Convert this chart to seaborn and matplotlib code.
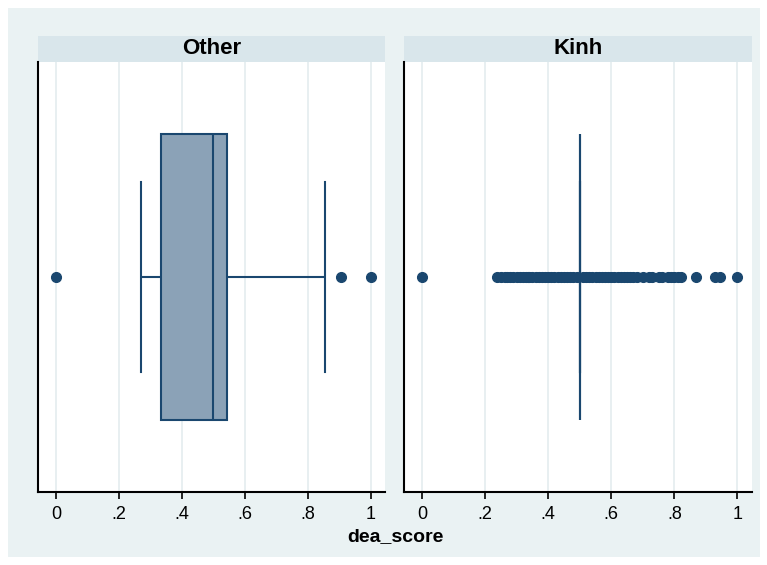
import numpy as np
import pandas as pd
import matplotlib.pyplot as plt
import matplotlib.patches as mpatches
import seaborn as sns

# dea_score values
other_scores = [0.0, 0.27, 0.30, 0.32, 0.335, 0.335, 0.36, 0.40, 0.44, 0.48, 0.5,
                0.5, 0.5, 0.52, 0.53, 0.545, 0.545, 0.70, 0.855, 0.905, 1.0]
kinh_spread = [0.0, 0.238, 0.25, 0.262, 0.27, 0.28, 0.29, 0.30, 0.31, 0.32, 0.33, 0.335,
               0.34, 0.35, 0.36, 0.37, 0.38, 0.39, 0.40, 0.41, 0.42, 0.43, 0.44, 0.45,
               0.46, 0.47, 0.48, 0.49, 0.51, 0.52, 0.53, 0.54, 0.55, 0.56, 0.57, 0.58,
               0.59, 0.60, 0.61, 0.62, 0.63, 0.64, 0.65, 0.66, 0.67, 0.68, 0.70, 0.72,
               0.73, 0.75, 0.76, 0.78, 0.79, 0.80, 0.81, 0.82, 0.87, 0.93, 0.945, 1.0]
kinh_median_count = 220
groups = ['Other', 'Kinh']
ticks = [0, 0.2, 0.4, 0.6, 0.8, 1.0]
tick_labels = ['0', '.2', '.4', '.6', '.8', '1']

navy = '#1a476f'
box_fill = '#8ba2b7'
bg = '#eaf2f3'
strip = '#d9e6eb'
grid = '#e4ecef'

data = {
    'Other': pd.DataFrame({'dea_score': other_scores}),
    'Kinh': pd.DataFrame({'dea_score': kinh_spread + [0.5] * kinh_median_count}),
}

plt.rcParams['font.family'] = ['Liberation Sans', 'DejaVu Sans']

fig = plt.figure(figsize=(7.67, 5.65), dpi=100)
fig.patch.set_facecolor('white')
fig.patches.append(mpatches.Rectangle((8 / 767, 8 / 565), 752 / 767, 549 / 565,
                                      transform=fig.transFigure, facecolor=bg,
                                      edgecolor='none', zorder=-10))

W, H = 767, 565
lefts = [38, 404]
widths = [347, 348]
for name, left, w in zip(groups, lefts, widths):
    ax = fig.add_axes([left / W, 1 - 492 / H, w / W, 430 / H])
    ax.set_facecolor('white')
    sns.boxplot(data=data[name], x='dea_score', ax=ax, orient='h', width=0.667,
                color=box_fill, saturation=1, linecolor=navy, linewidth=1.5,
                fliersize=7, capwidths=0.44,
                flierprops=dict(marker='o', markerfacecolor=navy, markeredgecolor=navy))
    ax.set_xlim(-0.057, 1.046)
    ax.set_xticks(ticks)
    ax.set_xticklabels(tick_labels, fontsize=13)
    ax.set_yticks([])
    ax.set_ylabel('')
    ax.set_xlabel('')
    ax.grid(axis='x', color=grid, linewidth=1.2)
    ax.set_axisbelow(True)
    for s in ['top', 'right']:
        ax.spines[s].set_visible(False)
    for s in ['left', 'bottom']:
        ax.spines[s].set_color('black')
        ax.spines[s].set_linewidth(1.5)
    ax.tick_params(axis='x', length=5, width=1.2, color='black', pad=5)
    # facet strip
    ax.add_patch(mpatches.Rectangle((0, 1.0), 1, 26 / 430, transform=ax.transAxes,
                                    facecolor=strip, edgecolor='none', clip_on=False))
    ax.text(0.5, 1 + 13 / 430, name, transform=ax.transAxes, ha='center', va='center',
            fontsize=16, fontweight='bold')

fig.text(395 / W, 1 - 537 / H, 'dea_score', ha='center', va='center',
         fontsize=14, fontweight='bold')

fig.savefig('out.png', dpi=100)
